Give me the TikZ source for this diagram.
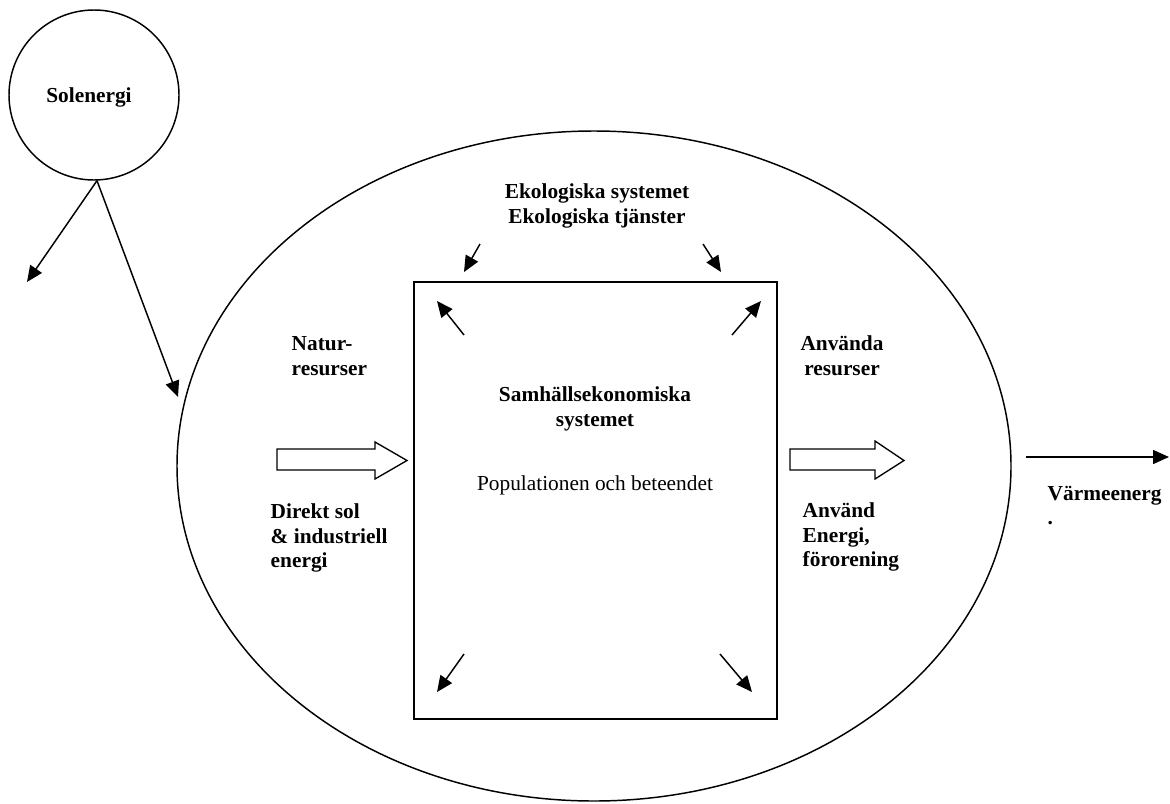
\documentclass[tikz,border=0pt]{standalone}
\usepackage{fontspec}
\setmainfont{Liberation Serif}
\usetikzlibrary{arrows.meta,shapes.geometric}
\begin{document}
\begin{tikzpicture}[x=0.75pt, y=-0.75pt, line width=1.1pt,
		lbl/.style = {font=\fontsize{16}{18.5}\selectfont\bfseries, inner sep=0pt},
		main/.style = {draw, circle, minimum size=127.5pt, inner sep=0pt},
		pil/.style = {-{Triangle[length=12pt,width=10.5pt]}},
		blockpil/.style = {draw, fill=white, line width=1pt}]
		\useasboundingbox (0,0) rectangle (1170,803);

		\node[main] (sol) at (94,95) {};
		\node[lbl] (soltext) at (89,97) {Solenergi};
		\node[draw, ellipse, minimum width=625.5pt, minimum height=502.5pt, inner sep=0pt] (eko) at (594,466) {};
		\node[draw, line width=1.5pt, minimum width=272.25pt, minimum height=327.75pt, inner sep=0pt] (samh) at (595.5,500.5) {};

		% texts
		\node[lbl, align=center, anchor=north] (ekotext) at (597,183) {Ekologiska systemet\\Ekologiska tjänster};
		\node[lbl, align=left, anchor=north west] (natur) at (291,336) {Natur-\\resurser};
		\node[lbl, align=center, anchor=north] (samhtext) at (595,386) {Samhällsekonomiska\\systemet};
		\node[inner sep=0pt, font=\fontsize{16}{18.5}\selectfont, anchor=base] (pop) at (595,490) {Populationen och beteendet};
		\node[lbl, align=left, anchor=north west] (direkt) at (270,503) {Direkt sol\\\& industriell\\energi};
		\node[lbl, align=center, anchor=north] (anvres) at (842,335) {Använda\\resurser};
		\node[lbl, align=left, anchor=north west] (anven) at (802,502) {Använd\\Energi,\\förorening};
		\node[lbl, align=left, anchor=north west] (varme) at (1047,485) {Värmeenerg\\.};

		% sun arrows
		\coordinate (solut) at (27,282);
		\coordinate (solin) at (178,397);
		\draw[pil] (sol.-88) -- (solut);
		\draw[pil] (sol.-88) -- (solin);

		% corner arrows
		\coordinate (ova) at (480,244);
		\coordinate (ovb) at (464,272);
		\coordinate (oha) at (703,244);
		\coordinate (ohb) at (721,272);
		\coordinate (iva) at (464,335);
		\coordinate (ivb) at (437,301);
		\coordinate (iha) at (732,335);
		\coordinate (ihb) at (761,301);
		\coordinate (nva) at (464,654);
		\coordinate (nvb) at (437,692);
		\coordinate (nha) at (720,654);
		\coordinate (nhb) at (752,692);
		\draw[pil] (ova) -- (ovb);
		\draw[pil] (oha) -- (ohb);
		\draw[pil] (iva) -- (ivb);
		\draw[pil] (iha) -- (ihb);
		\draw[pil] (nva) -- (nvb);
		\draw[pil] (nha) -- (nhb);

		% block arrows
		\draw[blockpil] (277,449) -- (375,449) -- (375,442) -- (407,460.5) -- (375,479) -- (375,470) -- (277,470) -- cycle;
		\draw[blockpil] (790,449) -- (875,449) -- (875,441) -- (904,460.5) -- (875,479) -- (875,470) -- (790,470) -- cycle;

		% heat out
		\coordinate (varmstart) at (1026,457);
		\coordinate (varmslut) at (1169,457);
		\draw[pil] (varmstart) -- (varmslut);
	\end{tikzpicture}
\end{document}
